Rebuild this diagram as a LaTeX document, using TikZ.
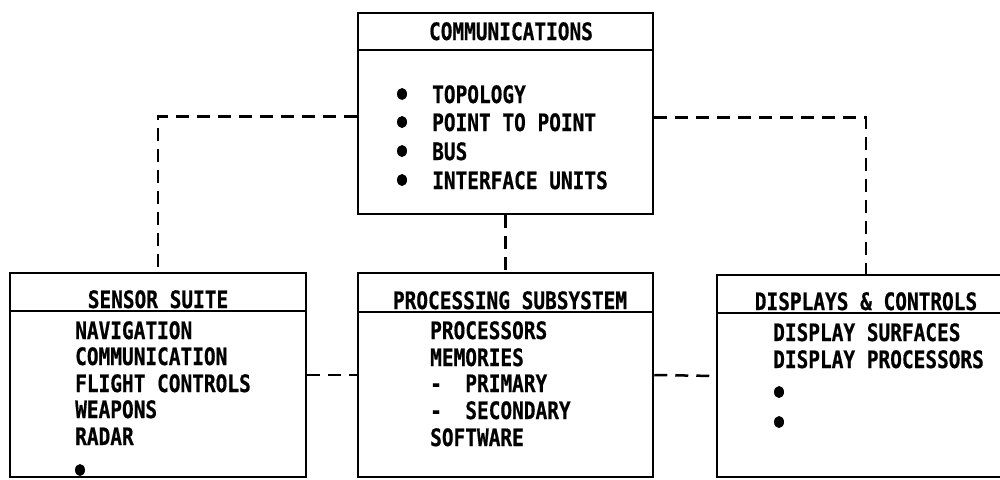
\documentclass[tikz,border=0pt]{standalone}
\usepackage{fontspec}
\newfontfamily\lblfont[FakeStretch=0.81,BoldFeatures={FakeBold=0.6}]{DejaVu Sans Mono}
\begin{document}
\begin{tikzpicture}[x=1pt,y=-1pt,
  box/.style={draw, line width=2.5pt, rectangle, inner sep=0pt},
  rule/.style={line width=2.5pt},
  conn/.style={line width=2.5pt, dash pattern=on 13pt off 8pt},
  txt/.style={inner sep=0pt, anchor=base west, font=\lblfont\bfseries\fontsize{24}{24}\selectfont},
  hdr/.style={inner sep=0pt, anchor=base, font=\lblfont\bfseries\fontsize{24}{24}\selectfont},
  dot/.style={fill=black}]
\useasboundingbox (0,0) rectangle (1000,479);
\clip (0,0) rectangle (1000,479);
% boxes
\node[box, minimum width=295pt, minimum height=201pt] (comm) at (505.5,113.5) {};
\node[box, minimum width=296pt, minimum height=204pt] (sensor) at (158,375) {};
\node[box, minimum width=295pt, minimum height=204pt] (proc) at (505.5,375) {};
\node[box, minimum width=298pt, minimum height=202pt] (disp) at (866,376) {};
% header rules
\draw[rule] (comm.west |- 0,50) -- (comm.east |- 0,50);
\draw[rule] (sensor.west |- 0,311) -- (sensor.east |- 0,311);
\draw[rule] (proc.west |- 0,312) -- (proc.east |- 0,312);
\draw[rule] (disp.west |- 0,313) -- (disp.east |- 0,313);
% connectors
\draw[conn] ([yshift=-3pt]comm.west) -| (sensor.north);
\draw[conn] ([yshift=-4pt]comm.east) -| (disp.north);
\draw[conn] (comm.south) -- (proc.north);
\draw[conn] (sensor.east) -- (proc.west);
\draw[conn] (proc.east) -- (disp.west);
% communications
\node[hdr] (commh) at (511,40) {COMMUNICATIONS};
\node[txt] (c1) at (432,103) {TOPOLOGY};
\node[txt] (c2) at (432,131) {POINT TO POINT};
\node[txt] (c3) at (432,160) {BUS};
\node[txt] (c4) at (432,189) {INTERFACE UNITS};
\fill[dot] (402,94) ellipse [x radius=5pt, y radius=6pt];
\fill[dot] (402,122) ellipse [x radius=5pt, y radius=6pt];
\fill[dot] (402,151) ellipse [x radius=5pt, y radius=6pt];
\fill[dot] (402,180) ellipse [x radius=5pt, y radius=6pt];
% sensor suite
\node[hdr] (sensh) at (158,308) {SENSOR SUITE};
\node[txt] (s1) at (75,339) {NAVIGATION};
\node[txt] (s2) at (75,365) {COMMUNICATION};
\node[txt] (s3) at (75,392) {FLIGHT CONTROLS};
\node[txt] (s4) at (75,418) {WEAPONS};
\node[txt] (s5) at (75,445) {RADAR};
\fill[dot] (80,470) ellipse [x radius=5pt, y radius=6pt];
% processing
\node[hdr] (proch) at (510,309) {PROCESSING SUBSYSTEM};
\node[txt] (p1) at (430,339) {PROCESSORS};
\node[txt] (p2) at (430,366) {MEMORIES};
\node[txt] (p3) at (430,392) {-~~PRIMARY};
\node[txt] (p4) at (430,419) {-~~SECONDARY};
\node[txt] (p5) at (430,446) {SOFTWARE};
% displays
\node[hdr] (disph) at (866,310) {DISPLAYS \& CONTROLS};
\node[txt] (d1) at (773,341) {DISPLAY SURFACES};
\node[txt] (d2) at (773,368) {DISPLAY PROCESSORS};
\fill[dot] (779,392) ellipse [x radius=5pt, y radius=6pt];
\fill[dot] (779,422) ellipse [x radius=5pt, y radius=6pt];
\end{tikzpicture}
\end{document}
